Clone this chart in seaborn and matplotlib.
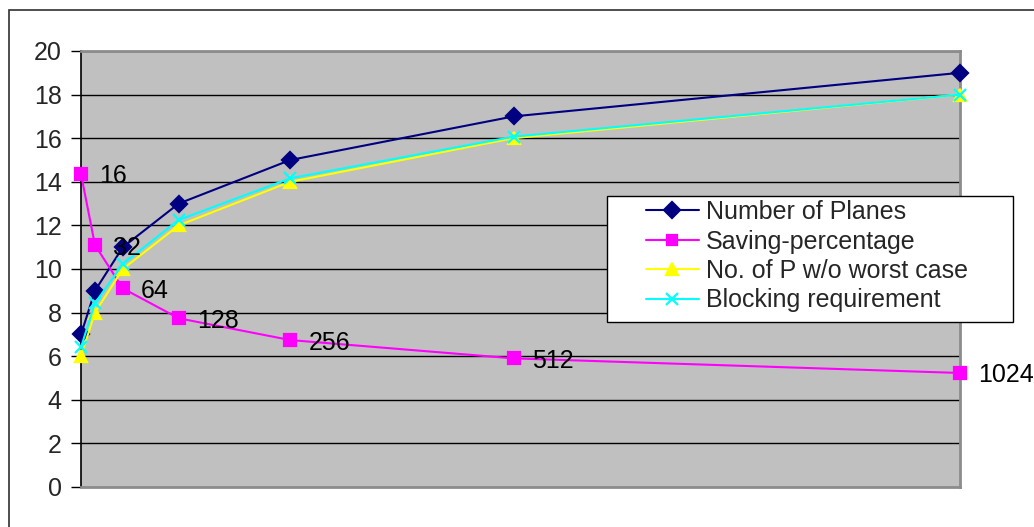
import matplotlib
matplotlib.use("Agg")
import matplotlib.pyplot as plt
import seaborn as sns
from matplotlib.patches import Rectangle

# Matrix sizes (x positions) and the four measured series
sizes = [16, 32, 64, 128, 256, 512, 1024]
size_labels = ["16", "32", "64", "128", "256", "512", "1024"]
number_of_planes = [7, 9, 11, 13, 15, 17, 19]
saving_percentage = [14.36, 11.1, 9.11, 7.74, 6.74, 5.9, 5.23]
planes_no_worst_case = [6, 8, 10, 12, 14, 16, 18]
blocking_requirement = [6.41, 8.43, 10.23, 12.25, 14.16, 16.07, 18.0]

series_names = ["Number of Planes", "Saving-percentage",
                "No. of P w/o worst case", "Blocking requirement"]
y_ticks = [0, 2, 4, 6, 8, 10, 12, 14, 16, 18, 20]

sns.set_theme(style="white")
plt.rcParams["font.family"] = ["Liberation Sans", "DejaVu Sans"]

FS = 18
W, H = 1034, 527
fig = plt.figure(figsize=(W / 100, H / 100), dpi=100)
fig.patch.set_facecolor("white")

# outer chart frame
fig.add_artist(Rectangle((9 / W, 1 - 10 / H - 1.0), 1.2, 1.0,
                         transform=fig.transFigure, fill=False,
                         edgecolor="#303030", linewidth=1.2))

ax = fig.add_axes([81 / W, 1 - 487 / H, (960 - 81) / W, (487 - 51) / H])
ax.set_facecolor("#C0C0C0")

styles = [
    (number_of_planes, "#000080", "D", 8.5),
    (saving_percentage, "#FF00FF", "s", 8),
    (planes_no_worst_case, "#FFFF00", "^", 9),
    (blocking_requirement, "#00FFFF", "x", 9),
]
for (vals, color, marker, ms), name in zip(styles, series_names):
    sns.lineplot(x=sizes, y=vals, ax=ax, color=color, marker=marker,
                 markersize=ms, markeredgecolor=color, markeredgewidth=1.6,
                 linewidth=1.5, label=name, clip_on=False, zorder=3)

# size labels beside the saving-percentage points
for xv, yv, lab in zip(sizes, saving_percentage, size_labels):
    ax.annotate(lab, (xv, yv), xytext=(13, 0), textcoords="offset points",
                va="center_baseline", ha="left", fontsize=FS, color="black",
                annotation_clip=False, zorder=4)

ax.set_xlim(16, 1024)
ax.set_ylim(0, 20)
ax.set_yticks(y_ticks)
ax.set_yticklabels([str(t) for t in y_ticks], fontsize=FS)
ax.set_xticks([])
ax.tick_params(axis="y", which="major", direction="out", length=7,
               width=1, color="black", left=True, pad=7)
for yt in y_ticks[1:]:
    ax.axhline(yt, color="black", linewidth=1.0, zorder=1)

for side in ["top", "right", "bottom"]:
    ax.spines[side].set_color("#8C8C8C")
    ax.spines[side].set_linewidth(2)
ax.spines["left"].set_color("black")
ax.spines["left"].set_linewidth(1.2)

# legend box drawn as its own frame, entries placed inside it
box_l, box_t, box_r, box_b = 607, 196, 1013, 322
ax.add_patch(Rectangle((box_l / W, 1 - box_b / H), (box_r - box_l) / W,
                       (box_b - box_t) / H, transform=fig.transFigure,
                       facecolor="white", edgecolor="black", linewidth=1.0,
                       clip_on=False, zorder=5))
leg = ax.legend(loc="upper left", bbox_to_anchor=(646 / W, 1 - 200 / H),
                bbox_transform=fig.transFigure, borderaxespad=0,
                fontsize=FS, frameon=False,
                handlelength=2.1, handletextpad=0.3, labelspacing=0.22,
                borderpad=0.0, markerscale=0.9)
leg.set_zorder(6)
for h in leg.legend_handles:
    h.set_linewidth(1.5)

fig.savefig("out.png", dpi=100)
